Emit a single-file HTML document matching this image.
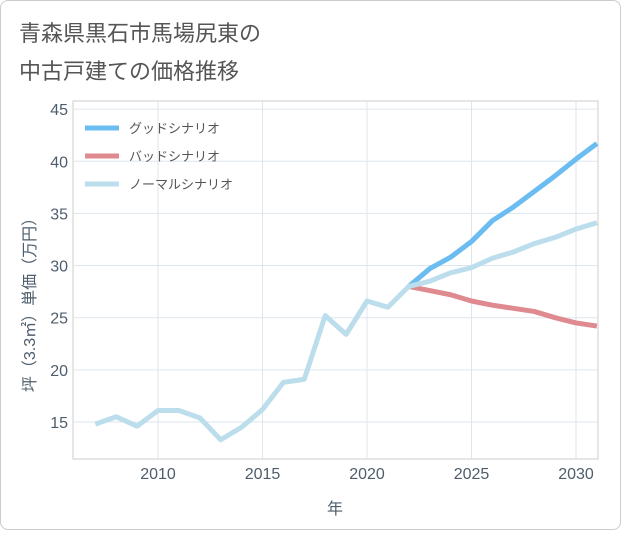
<!DOCTYPE html>
<html><head><meta charset="utf-8"><style>
body{margin:0;background:#fff;}
#card{position:absolute;left:0;top:0;width:619px;height:528px;border:1px solid #ccc;border-radius:8px;background:#fff;}
svg text{font-family:"Liberation Sans","Noto Sans CJK JP",sans-serif;}
</style></head><body>
<div id="card">
<svg id="chart" width="621" height="530">
<text x="18" y="40" font-size="22" fill="#555">青森県黒石市馬場尻東の</text>
<text x="18" y="78" font-size="22" fill="#555">中古戸建ての価格推移</text>
<text x="334" y="513" font-size="16" fill="#4e5d6c" text-anchor="middle">年</text>
<text transform="translate(34,300) rotate(-90)" font-size="16" fill="#4e5d6c" text-anchor="middle">坪（3.3㎡）単価（万円）</text>
</svg></div>
<script>
const years=[2007,2008,2009,2010,2011,2012,2013,2014,2015,2016,2017,2018,2019,2020,2021,2022,2023,2024,2025,2026,2027,2028,2029,2030,2031];
const normalVals=[14.8,15.5,14.6,16.1,16.1,15.4,13.3,14.5,16.2,18.8,19.1,25.2,23.4,26.6,26.0,28.0,28.5,29.3,29.8,30.7,31.3,32.1,32.7,33.5,34.1];
const futureYears=[2022,2023,2024,2025,2026,2027,2028,2029,2030,2031];
const goodVals=[28.0,29.7,30.8,32.3,34.3,35.6,37.1,38.6,40.2,41.7];
const badVals=[28.0,27.6,27.2,26.6,26.2,25.9,25.6,25.0,24.5,24.2];
const xTicks=[2010,2015,2020,2025,2030];
const yTicks=[15,20,25,30,35,40,45];
const legendLabels=["グッドシナリオ","バッドシナリオ","ノーマルシナリオ"];
const ns="http://www.w3.org/2000/svg",svg=document.getElementById('chart');
const L=72,R=597,T=100,B=458;
const X=y=>157+(y-2010)*20.9, Y=v=>421-(v-15)*10.43;
function mk(t,a,p){const e=document.createElementNS(ns,t);for(const k in a)e.setAttribute(k,a[k]);(p||svg).appendChild(e);return e;}
const plot=mk('rect',{x:L,y:T,width:R-L,height:B-T,fill:'#fff',stroke:'#ccc'});


xTicks.forEach(t=>{mk('line',{x1:X(t),x2:X(t),y1:T,y2:B,stroke:'#dde6ee'});
const tx=mk('text',{x:X(t),y:478,'font-size':16,fill:'#4e5d6c','text-anchor':'middle'});tx.textContent=t;

});
yTicks.forEach(t=>{mk('line',{x1:L,x2:R,y1:Y(t),y2:Y(t),stroke:'#dde6ee'});
const tx=mk('text',{x:67,y:Y(t)+6,'font-size':16,fill:'#4e5d6c','text-anchor':'end'});tx.textContent=t;

});
function line(xs,vs,c,n){const p=mk('polyline',{points:xs.map((x,i)=>X(x)+','+Y(vs[i])).join(' '),fill:'none',stroke:c,'stroke-width':5,'stroke-linejoin':'round'});

}
line(futureYears,badVals,'#de8a8f','bad-scenario-line');
line(futureYears,goodVals,'#6bbcf0','good-scenario-line');
line(years,normalVals,'#bcdeec','normal-scenario-line');
const lc=['#6bbcf0','#de8a8f','#bcdeec'];
legendLabels.forEach((s,i)=>{const y=127+i*28;
mk('line',{x1:84,x2:118,y1:y,y2:y,stroke:lc[i],'stroke-width':5});
const tx=mk('text',{x:128,y:y+5,'font-size':13,fill:'#555'});tx.textContent=s;

});
</script></body></html>
